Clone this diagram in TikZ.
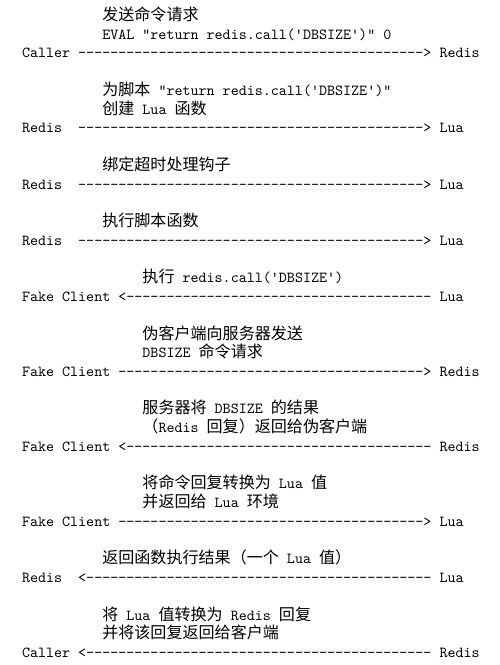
\documentclass[tikz,border=0pt]{standalone}
\usepackage{fontspec}
\newfontfamily\cjk[Scale=1.05]{Noto Sans CJK SC}
\newcommand\dashrun[1]{\foreach \k in {1,...,#1}{-}}
\tikzset{
  txt/.style={anchor=base west, inner sep=0pt, font=\ttfamily},
}

\begin{document}
\begin{tikzpicture}[x=5.25pt, y=-12.25pt]
\useasboundingbox (-14.19pt,13.40pt) rectangle (312.71pt,-421.40pt);
% EVAL from the caller
\node[txt] (say1a) at (10,0) {\cjk 发送命令请求};
\node[txt] (say1b) at (10,1) {EVAL "return redis.call('DBSIZE')" 0};
\node[txt] (caller1) at (0,2) {Caller};
\node[txt] (go1) at (7,2) {\dashrun{43}>};
\node[txt] (redis1) at (52,2) {Redis};
% Redis -> Lua steps
\node[txt] (say2a) at (10,4) {{\cjk 为脚本} "return redis.call('DBSIZE')"};
\node[txt] (say2b) at (10,5) {{\cjk 创建} Lua {\cjk 函数}};
\node[txt] (say3) at (10,8) {\cjk 绑定超时处理钩子};
\node[txt] (say4) at (10,11) {\cjk 执行脚本函数};
\foreach \r in {6,9,12}{
  \node[txt] (redisL\r) at (0,\r) {Redis};
  \node[txt] (go\r) at (7,\r) {\dashrun{43}>};
  \node[txt] (lua\r) at (52,\r) {Lua};
}
% fake client
\node[txt] (say5) at (15,14) {{\cjk 执行} redis.call('DBSIZE')};
\node[txt] (fake15) at (0,15) {Fake Client};
\node[txt] (back15) at (12,15) {<\dashrun{38}};
\node[txt] (lua15) at (52,15) {Lua};
\node[txt] (say6a) at (15,17) {\cjk 伪客户端向服务器发送};
\node[txt] (say6b) at (15,18) {DBSIZE {\cjk 命令请求}};
\node[txt] (fake19) at (0,19) {Fake Client};
\node[txt] (go19) at (12,19) {\dashrun{38}>};
\node[txt] (redis19) at (52,19) {Redis};
\node[txt] (say7a) at (15,21) {{\cjk 服务器将} DBSIZE {\cjk 的结果}};
\node[txt] (say7b) at (15,22) {{\cjk （}Redis {\cjk 回复）返回给伪客户端}};
\node[txt] (fake23) at (0,23) {Fake Client};
\node[txt] (back23) at (12,23) {<\dashrun{38}};
\node[txt] (redis23) at (52,23) {Redis};
\node[txt] (say8a) at (15,25) {{\cjk 将命令回复转换为} Lua {\cjk 值}};
\node[txt] (say8b) at (15,26) {{\cjk 并返回给} Lua {\cjk 环境}};
\node[txt] (fake27) at (0,27) {Fake Client};
\node[txt] (go27) at (12,27) {\dashrun{38}>};
\node[txt] (lua27) at (52,27) {Lua};
% results going back
\node[txt] (say9) at (10,29) {{\cjk 返回函数执行结果（一个} Lua {\cjk 值）}};
\node[txt] (redis30) at (0,30) {Redis};
\node[txt] (back30) at (7,30) {<\dashrun{43}};
\node[txt] (lua30) at (52,30) {Lua};
\node[txt] (say10a) at (10,32) {{\cjk 将} Lua {\cjk 值转换为} Redis {\cjk 回复}};
\node[txt] (say10b) at (10,33) {\cjk 并将该回复返回给客户端};
\node[txt] (caller34) at (0,34) {Caller};
\node[txt] (back34) at (7,34) {<\dashrun{43}};
\node[txt] (redis34) at (52,34) {Redis};
\end{tikzpicture}
\end{document}
